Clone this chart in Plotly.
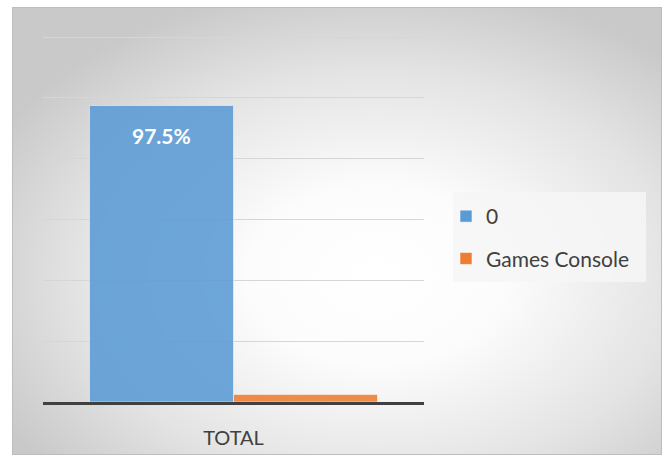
import urllib.parse
import plotly.graph_objects as go

# Share of responses for the single category
categories = ["TOTAL"]
series_names = ["0", "Games Console"]
series_values = [[97.5], [2.5]]
series_colors = ["#5b9bd5", "#ed7d31"]
y_ticks = [0, 20, 40, 60, 80, 100, 120]

W, H = 672, 462
ML, MR, MT, MB = 43, 248, 34, 60
Y_MAX = 121
PW, PH = W - ML - MR, H - MT - MB
BASE = H - MB


def px_x(px):
    return (px - ML) / PW


def px_y(py):
    return (BASE - py) / PH


fig = go.Figure()
for name, vals, col in zip(series_names, series_values, series_colors):
    fig.add_trace(go.Bar(
        x=categories, y=vals, name=name, legendgroup=name,
        marker=dict(color=col, opacity=0.88,
                    line=dict(color="rgba(255,255,255,0.55)", width=1)),
        hoverinfo="skip",
    ))

# value label on the first series
fig.add_annotation(
    x=categories[0], y=series_values[0][0], xref="x", yref="y",
    text=f"<b>{series_values[0][0]:.1f}%</b>", showarrow=False,
    xshift=-72, yshift=-30, yanchor="middle",
    font=dict(family="Lato", size=21, color="white"),
)

# chart area background: soft radial gradient with a thin frame
fx0, fx1, fy0, fy1 = 12, 662, 7, 455
svg = (
    '<svg xmlns="http://www.w3.org/2000/svg" width="650" height="448" '
    'viewBox="0 0 650 448" preserveAspectRatio="none">'
    '<defs><radialGradient id="g" cx="0.56" cy="0.6" r="0.66" '
    'gradientUnits="objectBoundingBox">'
    '<stop offset="0" stop-color="#ffffff"/>'
    '<stop offset="0.3" stop-color="#fcfcfc"/>'
    '<stop offset="0.7" stop-color="#e3e3e3"/>'
    '<stop offset="1" stop-color="#c9c9c9"/>'
    '</radialGradient></defs>'
    '<rect x="0" y="0" width="650" height="448" fill="url(#g)" '
    'stroke="#bdbdbd" stroke-width="2"/></svg>'
)
src = "data:image/svg+xml;charset=utf-8," + urllib.parse.quote(svg)
fig.add_layout_image(
    source=src, xref="paper", yref="paper",
    x=px_x(fx0), y=px_y(fy0),
    sizex=px_x(fx1) - px_x(fx0), sizey=px_y(fy0) - px_y(fy1),
    xanchor="left", yanchor="top", sizing="stretch", layer="below",
)

# legend panel
fig.add_shape(
    type="rect", xref="paper", yref="paper",
    x0=px_x(453), x1=px_x(646), y0=px_y(282), y1=px_y(192),
    fillcolor="rgba(246,246,246,0.85)", line=dict(width=0), layer="below",
)

fig.update_layout(
    width=W, height=H,
    margin=dict(l=ML, r=MR, t=MT, b=MB),
    paper_bgcolor="white", plot_bgcolor="rgba(0,0,0,0)",
    barmode="group", bargap=0.244, bargroupgap=0,
    font=dict(family="Lato", color="#404040"),
    showlegend=True,
    legend=dict(
        x=px_x(446), y=px_y(196), xanchor="left", yanchor="top",
        bgcolor="rgba(0,0,0,0)", font=dict(size=21, color="#404040"),
        tracegroupgap=12, traceorder="grouped",
    ),
    xaxis=dict(
        showgrid=False, showline=True, linecolor="#404040", linewidth=3,
        ticks="outside", ticklen=16, tickcolor="rgba(0,0,0,0)",
        tickfont=dict(size=20, color="#404040"), fixedrange=True,
    ),
    yaxis=dict(
        range=[0, Y_MAX], tickvals=y_ticks, showticklabels=False,
        showgrid=True, gridcolor="#d6d6d6", gridwidth=1,
        zeroline=False, showline=False, fixedrange=True,
    ),
)

fig.write_html("out.html")
